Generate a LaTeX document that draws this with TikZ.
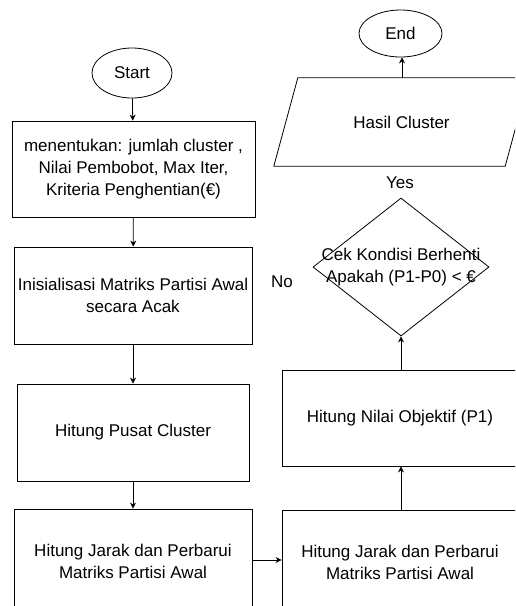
\documentclass[tikz,border=0pt]{standalone}
\usepackage{fontspec}
\setmainfont{Liberation Sans}
\usetikzlibrary{shapes.geometric, arrows.meta}

\begin{document}
\begin{tikzpicture}[x=1pt, y=-1pt,
            every node/.style={font=\fontsize{17}{22}\selectfont},
            terminal/.style={draw, ellipse, inner sep=0pt, line width=0.8pt},
            process/.style={draw, rectangle, align=center, inner sep=0pt, line width=0.8pt, minimum height=97pt},
            decision/.style={draw, diamond, inner sep=0pt, line width=0.8pt, minimum width=176pt, minimum height=138pt},
            arrow/.style={-{Stealth[length=6pt, width=6pt]}, line width=0.8pt}
        ]

            \useasboundingbox (0,0) rectangle (515,606);
            \clip (0,0) rectangle (515,606);

% Left column, top to bottom
            \node (start) [terminal, minimum width=80pt, minimum height=50pt] at (132,73) {Start};
            \node (param) [process, minimum width=243pt, minimum height=96pt] at (133.5,169) {menentukan: jumlah cluster ,\\ Nilai Pembobot, Max Iter,\\ Kriteria Penghentian(€)};
            \node (init) [process, minimum width=238pt] at (133,295.5) {Inisialisasi Matriks Partisi Awal\\ secara Acak};
            \node (center) [process, minimum width=232pt] at (133,432.5) {Hitung Pusat Cluster};
            \node (dist) [process, minimum width=238pt, minimum height=104pt] at (133,561) {Hitung Jarak dan Perbarui\\ Matriks Partisi Awal};

% Right column, bottom to top
            \node (update) [process, minimum width=236pt, minimum height=104pt] at (400,562) {Hitung Jarak dan Perbarui\\ Matriks Partisi Awal};
            \node (objective) [process, minimum width=236pt, minimum height=96pt] at (400,418) {Hitung Nilai Objektif (P1)};
            \node (check) [decision, label={[align=center]center:Cek Kondisi Berhenti\\ Apakah (P1-P0) < €}] at (401,267) {};
            \node (result) [minimum width=231pt, minimum height=88pt, inner sep=0pt] at (401.5,122) {Hasil Cluster};
            \node (end) [terminal, minimum width=83pt, minimum height=47pt] at (400.5,33.5) {End};

% Parallelogram round the output node
            \draw [line width=0.8pt] ([xshift=-12pt]result.south west) -- ([xshift=-12pt]result.south east)
                -- ([xshift=12pt]result.north east) -- ([xshift=12pt]result.north west) -- cycle;

% Labels
            \node (no) at (282,282) {No};
            \node (yes) at (400,183) {Yes};

% Arrows
            \draw [arrow] (start) -- (param);
            \draw [arrow] (param) -- (init);
            \draw [arrow] (init) -- (center);
            \draw [arrow] (center.south) -- (dist.north -| center.south);
            \draw [arrow] (dist.east |- 0,560) -- (update.west |- 0,560);
            \draw [arrow] (update.north -| 401,0) -- (objective.south -| 401,0);
            \draw [arrow] (objective.north -| check.south) -- (check.south);
            \draw [arrow] (result.north -| 402,0) -- (end.south -| 402,0);

        \end{tikzpicture}
\end{document}
